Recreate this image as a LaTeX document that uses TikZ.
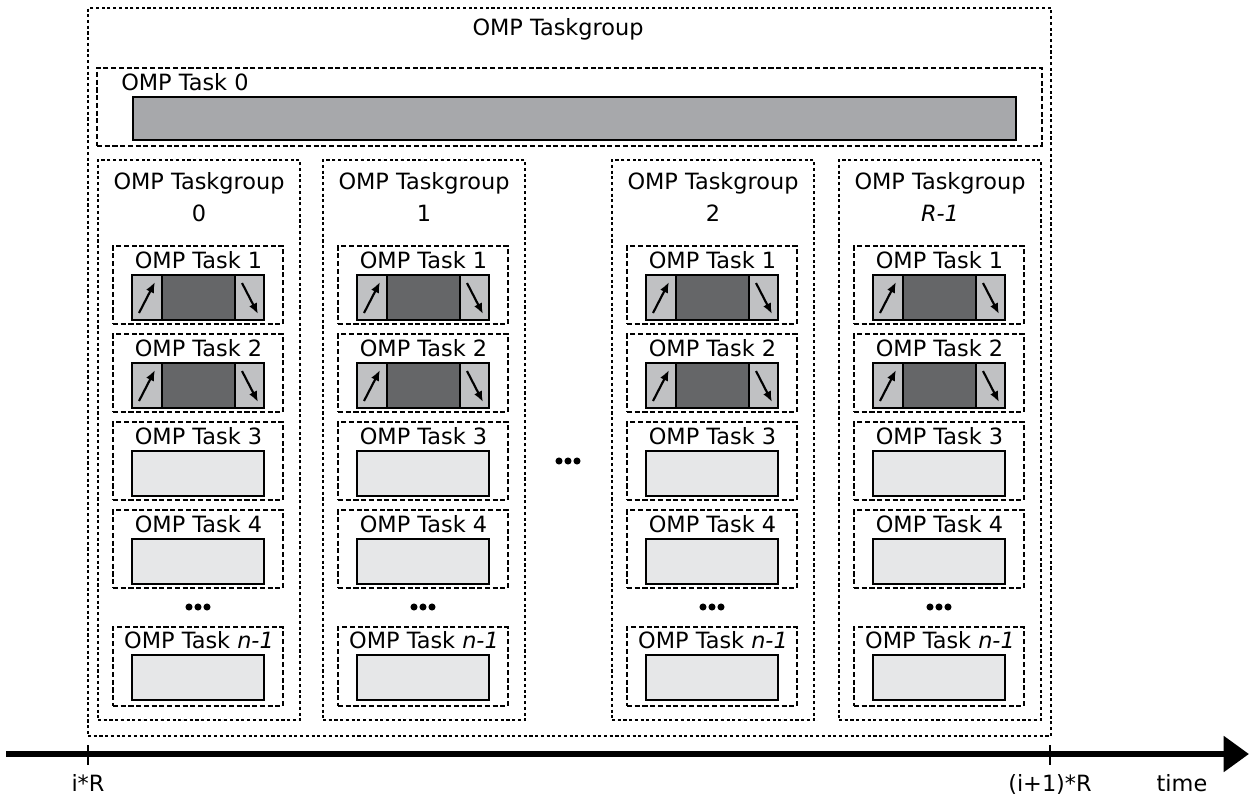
\documentclass[tikz,border=0pt]{standalone}
\usepackage{fontspec}
\setmainfont{DejaVu Sans}
\usetikzlibrary{fit,arrows.meta}
\definecolor{barA}{HTML}{A7A8AB}
\definecolor{cellS}{HTML}{C0C1C3}
\definecolor{cellM}{HTML}{656668}
\definecolor{cellL}{HTML}{E6E7E8}
\begin{document}
\begin{tikzpicture}[x=0.75pt,y=-0.75pt,
 every node/.style={font=\fontsize{16.8pt}{20pt}\selectfont, inner sep=0},
 outerg/.style={draw, line width=0.9pt, dash pattern=on 2.3pt off 2pt, inner sep=0},
 taskbox/.style={draw, line width=1.3pt, dash pattern=on 3.8pt off 2pt, inner sep=0},
 bar/.style={draw, line width=0.8pt, inner sep=0},
 lbl/.style={anchor=base},
 dot/.style={circle, fill, minimum size=5.3pt, inner sep=0},
 cellarrow/.style={line width=1.6pt, -{Latex[length=8pt,width=6.5pt]}}
]
\useasboundingbox (0,0) rectangle (1257,797);
% outer taskgroup
\node[outerg, fit={(88,8) (1051,736)}] (all) {};
\node[lbl] (allL) at (558,35) {OMP Taskgroup};
% task 0
\node[taskbox, fit={(97,68) (1042,146)}] (t0) {};
\node[lbl, anchor=base west] (t0L) at (121,90) {OMP Task 0};
\node[bar, fill=barA, fit={(133,97) (1016,140)}] (t0b) {};
% columns
\foreach \c/\o/\n in {0/0/0, 1/225/1, 2/514/2, 3/741/\textit{R-1}}{
  \node[outerg, fit={(98+\o,160) (300+\o,720)}] (g\c) {};
  \node[lbl] (g\c-l1) at (199+\o,189) {OMP Taskgroup};
  \node[lbl] (g\c-l2) at (199+\o,221) {\n};
  \foreach \k in {1,...,4}{
    \pgfmathsetmacro\t{246+(\k-1)*88}
    \node[taskbox, fit={(113+\o,\t) (283+\o,\t+78)}] (g\c-t\k) {};
    \node[lbl] (g\c-t\k-l) at (198.5+\o,\t+22) {OMP Task \k};
  }
  \foreach \k in {1,2}{
    \pgfmathsetmacro\t{246+(\k-1)*88}
    \node[bar, fill=cellS, fit={(132+\o,\t+29) (162+\o,\t+74)}] (g\c-t\k-a) {};
    \node[bar, fill=cellM, fit={(162+\o,\t+29) (235+\o,\t+74)}] (g\c-t\k-b) {};
    \node[bar, fill=cellS, fit={(235+\o,\t+29) (264+\o,\t+74)}] (g\c-t\k-c) {};
    \coordinate (g\c-t\k-a1) at (139+\o,\t+67);
    \coordinate (g\c-t\k-a2) at (155+\o,\t+36);
    \coordinate (g\c-t\k-c1) at (242+\o,\t+37);
    \coordinate (g\c-t\k-c2) at (258+\o,\t+68);
    \draw[cellarrow] (g\c-t\k-a1) -- (g\c-t\k-a2);
    \draw[cellarrow] (g\c-t\k-c1) -- (g\c-t\k-c2);
  }
  \foreach \k in {3,4}{
    \pgfmathsetmacro\t{246+(\k-1)*88}
    \node[bar, fill=cellL, fit={(132+\o,\t+29) (264+\o,\t+74)}] (g\c-t\k-b) {};
  }
  \node[dot] (g\c-d1) at (189+\o,607) {};
  \node[dot] (g\c-d2) at (198+\o,607) {};
  \node[dot] (g\c-d3) at (207+\o,607) {};
  \node[taskbox, fit={(113+\o,627) (283+\o,706)}] (g\c-tn) {};
  \node[lbl] (g\c-tn-l) at (199+\o,648) {OMP Task \textit{n-1}};
  \node[bar, fill=cellL, fit={(132+\o,655) (264+\o,700)}] (g\c-tn-b) {};
}
% middle dots
\node[dot] (md1) at (559,461) {};
\node[dot] (md2) at (568,461) {};
\node[dot] (md3) at (577,461) {};
% time axis
\coordinate (axS) at (6,754);
\coordinate (axE) at (1249,754);
\draw[line width=4.9pt, -{Triangle[length=19pt,width=26pt]}] (axS) -- (axE);
\coordinate (tk1a) at (88,745);
\coordinate (tk1b) at (88,765);
\coordinate (tk2a) at (1050,745);
\coordinate (tk2b) at (1050,765);
\draw[line width=2.2pt] (tk1a) -- (tk1b);
\draw[line width=2.2pt] (tk2a) -- (tk2b);
\node[lbl] (x1) at (88,791) {i*R};
\node[lbl] (x2) at (1050,791) {(i+1)*R};
\node[lbl] (xt) at (1182,791) {time};
\end{tikzpicture}
\end{document}
